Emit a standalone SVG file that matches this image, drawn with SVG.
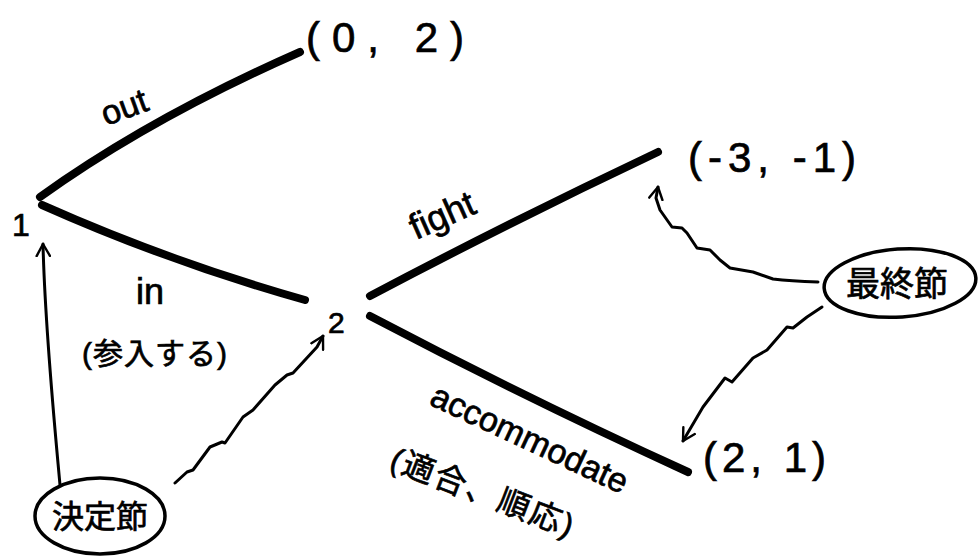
<svg xmlns="http://www.w3.org/2000/svg" width="980" height="560" viewBox="0 0 980 560">
<defs>
<style>
.t{font-family:"Liberation Sans","Noto Sans CJK JP",sans-serif;fill:#000;stroke:#000;stroke-width:0.7;}
.br{fill:none;stroke:#000;stroke-width:8;stroke-linecap:round;}
.ar{fill:none;stroke:#000;stroke-width:3;stroke-linecap:round;stroke-linejoin:round;}
.el{fill:#fff;stroke:#000;stroke-width:3.5;}
</style>
<marker id="ah" viewBox="0 0 12 12" refX="10" refY="6" markerWidth="16" markerHeight="16" markerUnits="userSpaceOnUse" orient="auto">
<path d="M1,1 L10,6 L1,11" fill="none" stroke="#000" stroke-width="1.8" stroke-linecap="round" stroke-linejoin="round"/>
</marker>
</defs>
<rect width="980" height="560" fill="#fff"/>
<g id="connectors">
<path id="e-out" class="br" d="M40,197 Q150,118 300,52" stroke-width="7"/>
<path id="e-in" class="br" d="M42,205 Q170,262 305,300"/>
<path id="e-fight" class="br" d="M370,296 Q510,222 658,152"/>
<path id="e-acc" class="br" d="M370,316 Q530,400 688,472"/>
<path id="a-dec-1" class="ar" d="M60,485 C56,440 45,330 43,244" marker-end="url(#ah)"/>
<path id="a-dec-2" class="ar" d="M175,483 L187,472 L193,470 L210,447 L222,442 L225,443 L243,417 L253,410 L275,385 L287,375 L293,373 L317,347 L323,336" marker-end="url(#ah)"/>
<path id="a-fin-1" class="ar" d="M818,282 Q790,281 773,279 L753,272 L730,268 L720,260 L710,250 L697,248 L687,233 L682,228 L672,227 L660,210 L656,198 L658,187" marker-end="url(#ah)"/>
<path id="a-fin-2" class="ar" d="M822,307 L807,317 L793,328 L787,327 L767,350 L753,358 L732,382 L725,378 L703,407 L683,441" marker-end="url(#ah)"/>
<text class="t" font-size="34" transform="translate(106,126) rotate(-20)">out</text>
<text class="t" font-size="36" x="136" y="304">in</text>
<text class="t" font-size="30" x="82" y="364" letter-spacing="1">(参入する)</text>
<text class="t" font-size="36" transform="translate(416,240) rotate(-24)">fight</text>
<text class="t" font-size="34" transform="translate(428,404) rotate(25)">accommodate</text>
<text class="t" font-size="32" transform="translate(388,468) rotate(21)" letter-spacing="2">(適合、順応)</text>
</g>
<g id="node-1"><text class="t" font-size="32" x="12" y="236">1</text></g>
<g id="node-2"><text class="t" font-size="30" x="328" y="333">2</text></g>
<g id="leaf-out"><text class="t" font-size="42" x="306" y="52" letter-spacing="12">(0, 2)</text></g>
<g id="leaf-fight"><text class="t" font-size="42" x="688" y="172" letter-spacing="6">(-3, -1)</text></g>
<g id="leaf-acc"><text class="t" font-size="42" x="703" y="472" letter-spacing="5">(2, 1)</text></g>
<g id="decision-node">
<ellipse class="el" cx="100" cy="516" rx="65" ry="38"/>
<text class="t" font-size="32" x="100" y="528" text-anchor="middle">決定節</text>
</g>
<g id="final-node">
<ellipse class="el" cx="900" cy="283" rx="76" ry="34" transform="rotate(-4 900 283)"/>
<text class="t" font-size="34" x="897" y="296" text-anchor="middle">最終節</text>
</g>
</svg>
